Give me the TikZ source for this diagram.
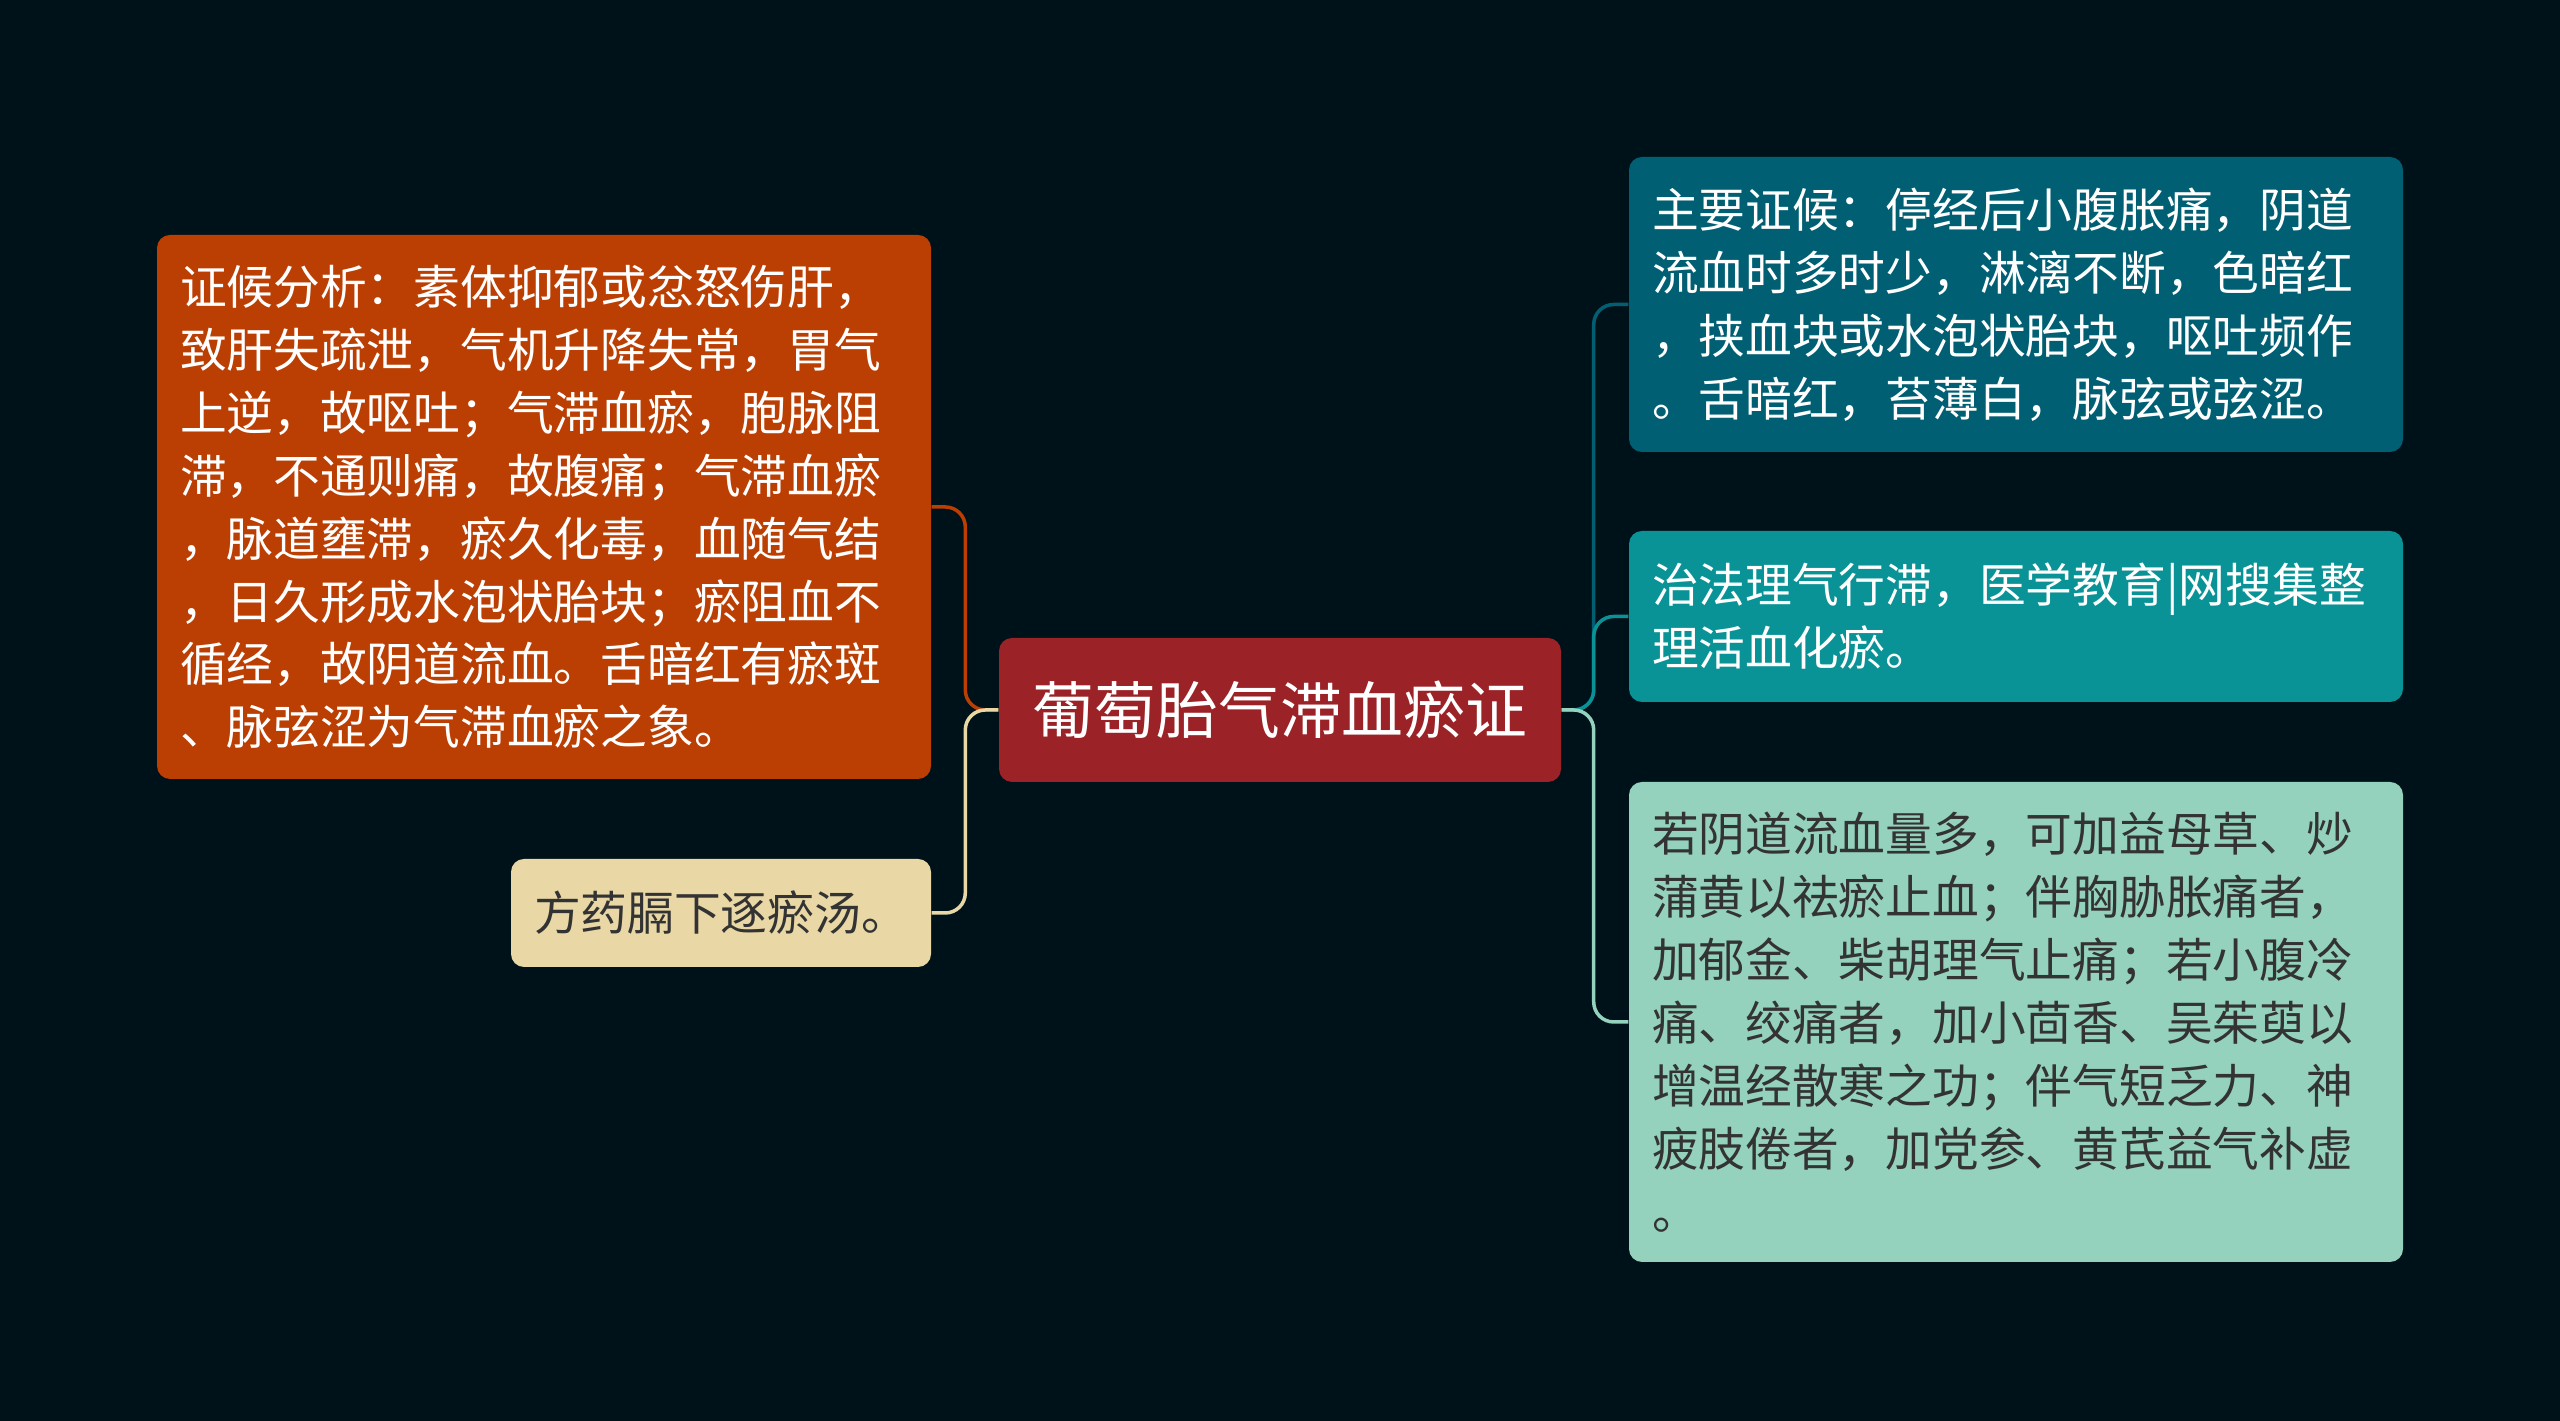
\documentclass[tikz,border=0pt]{standalone}
\usepackage{fontspec}
\setmainfont{Noto Sans CJK SC}
\usepackage{tikz}
\usetikzlibrary{positioning}
\definecolor{bgdark}{HTML}{001219}
\definecolor{rootred}{HTML}{9B2226}
\definecolor{rust}{HTML}{BB3E03}
\definecolor{sand}{HTML}{E9D8A6}
\definecolor{deepteal}{HTML}{005F73}
\definecolor{teal}{HTML}{0A9396}
\definecolor{mint}{HTML}{94D2BD}
\definecolor{inkdark}{HTML}{333333}

\begin{document}
\begin{tikzpicture}[
  box/.style={rounded corners=0.13cm, inner xsep=0.23cm, inner ysep=0.1cm,
              minimum width=7.74cm, text width=7.28cm, align=left,
              font=\fontsize{13.3pt}{17.9pt}\selectfont},
  topic/.style={rounded corners=0.13cm, minimum width=5.62cm, minimum height=1.44cm,
              fill=rootred, text=white, font=\fontsize{17.6pt}{21pt}\selectfont},
  link/.style={line width=0.035cm, rounded corners=0.2cm},
]
\fill[bgdark] (0,0) rectangle (25.6,14.21);
\useasboundingbox (0,0) rectangle (25.6,14.21);

% Central topic
\node[topic] (root) at (12.80,7.11) {葡萄胎气滞血瘀证};

% Left side
\node[box, fill=rust, text=white, minimum height=5.44cm] (anal) at (5.44,9.14)
  {证候分析：素体抑郁或忿怒伤肝，\\致肝失疏泄，气机升降失常，胃气\\上逆，故呕吐；气滞血瘀，胞脉阻\\滞，不通则痛，故腹痛；气滞血瘀\\，脉道壅滞，瘀久化毒，血随气结\\，日久形成水泡状胎块；瘀阻血不\\循经，故阴道流血。舌暗红有瘀斑\\、脉弦涩为气滞血瘀之象。};
\node[box, fill=sand, text=inkdark, minimum width=4.20cm, text width=3.74cm,
      minimum height=1.08cm] (recipe) at (7.21,5.08) {方药膈下逐瘀汤。};

% Right side
\node[box, fill=deepteal, text=white, minimum height=2.95cm] (sympt) at (20.16,11.165)
  {主要证候：停经后小腹胀痛，阴道\\流血时多时少，淋漓不断，色暗红\\，挟血块或水泡状胎块，呕吐频作\\。舌暗红，苔薄白，脉弦或弦涩。};
\node[box, fill=teal, text=white, minimum height=1.71cm] (treat) at (20.16,8.045)
  {治法理气行滞，医学教育|网搜集整\\理活血化瘀。};
\node[box, fill=mint, text=inkdark, minimum height=4.80cm] (modif) at (20.16,3.99)
  {若阴道流血量多，可加益母草、炒\\蒲黄以祛瘀止血；伴胸胁胀痛者，\\加郁金、柴胡理气止痛；若小腹冷\\痛、绞痛者，加小茴香、吴茱萸以\\增温经散寒之功；伴气短乏力、神\\疲肢倦者，加党参、黄芪益气补虚\\。};

\draw[link, rust] (root.west) -- ++(-0.33,0) |- (anal.east);
\draw[link, sand] (root.west) -- ++(-0.33,0) |- (recipe.east);
\draw[link, deepteal] (root.east) -- ++(0.32,0) |- (sympt.west);
\draw[link, teal] (root.east) -- ++(0.32,0) |- (treat.west);
\draw[link, mint] (root.east) -- ++(0.32,0) |- (modif.west);
\end{tikzpicture}
\end{document}
